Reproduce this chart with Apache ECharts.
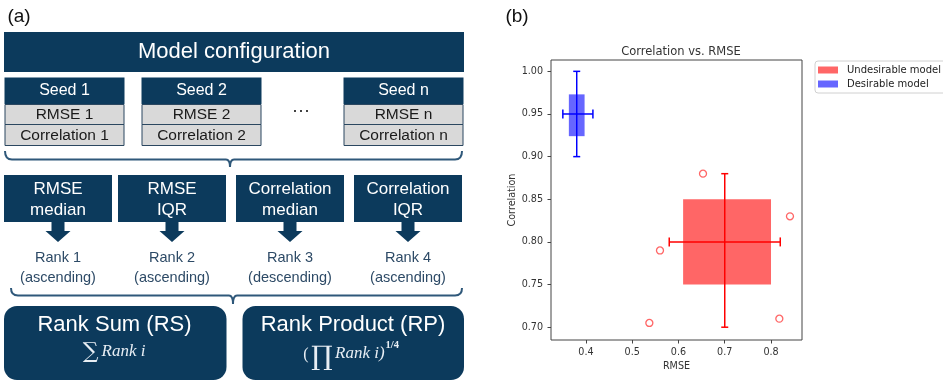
<!DOCTYPE html>
<html>
<head>
<meta charset="utf-8">
<script src="https://cdn.jsdelivr.net/npm/echarts@6/dist/echarts.min.js"></script>
<style>html,body{margin:0;padding:0;background:#fff}#c{width:943px;height:382px}</style>
</head>
<body>
<div id="c"></div>
<script>
// ---- Panel (b) data ----
// [lower whisker, Q1, median, Q3, upper whisker]
const undesirableRmse = [0.58, 0.61, 0.70, 0.80, 0.82];
const undesirableCorr = [0.70, 0.75, 0.80, 0.85, 0.88];
const desirableRmse = [0.35, 0.363, 0.38, 0.397, 0.415];
const desirableCorr = [0.90, 0.924, 0.95, 0.973, 1.00];
const undesirableOutliers = [[0.653, 0.88], [0.56, 0.79], [0.537, 0.705], [0.818, 0.71], [0.841, 0.83]];
const xTicks = [0.4, 0.5, 0.6, 0.7, 0.8];
const yTicks = [0.70, 0.75, 0.80, 0.85, 0.90, 0.95, 1.00];
const seriesNames = ['Undesirable model', 'Desirable model'];

// ---- Panel (a) texts ----
const seedHeaders = ['Seed 1', 'Seed 2', 'Seed n'];
const seedRmse = ['RMSE 1', 'RMSE 2', 'RMSE n'];
const seedCorr = ['Correlation 1', 'Correlation 2', 'Correlation n'];
const metricLabels = [['RMSE', 'median'], ['RMSE', 'IQR'], ['Correlation', 'median'], ['Correlation', 'IQR']];
const rankLabels = [['Rank 1', '(ascending)'], ['Rank 2', '(ascending)'], ['Rank 3', '(descending)'], ['Rank 4', '(ascending)']];

const NAVY = '#0c3a5c';
const SANS = 'Liberation Sans';
function txt(text, x, y, size, color, extra) {
  return {
    type: 'text', silent: true,
    style: Object.assign({
      text: text, x: x, y: y, fill: color,
      fontSize: size, fontFamily: SANS,
      align: 'center', verticalAlign: 'middle'
    }, extra || {})
  };
}
const BR = '#2f587a';
function brace(x0, x1, xc, y, yEnd, yTip) {
  const s = {stroke: BR, lineWidth: 2, fill: 'none'};
  return [
    {type: 'bezierCurve', shape: {x1: x0, y1: yEnd, x2: x0 + 7, y2: y, cpx1: x0, cpy1: y}, style: s},
    {type: 'line', shape: {x1: x0 + 7, y1: y, x2: xc - 4, y2: y}, style: s},
    {type: 'bezierCurve', shape: {x1: xc - 4, y1: y, x2: xc, y2: yTip, cpx1: xc, cpy1: y}, style: s},
    {type: 'bezierCurve', shape: {x1: xc + 4, y1: y, x2: xc, y2: yTip, cpx1: xc, cpy1: y}, style: s},
    {type: 'line', shape: {x1: xc + 4, y1: y, x2: x1 - 7, y2: y}, style: s},
    {type: 'bezierCurve', shape: {x1: x1 - 7, y1: y, x2: x1, y2: yEnd, cpx1: x1, cpy1: y}, style: s}
  ];
}
const g = [];
g.push(txt('(a)', 19, 17, 19, '#111'));
g.push(txt('(b)', 517, 17, 19, '#111'));
// model configuration
g.push({type: 'rect', shape: {x: 4, y: 32, width: 460, height: 40}, style: {fill: NAVY}});
g.push(txt('Model configuration', 234, 52, 22, '#fff'));
// seed boxes
const seedX = [4.5, 141.5, 343.5];
seedX.forEach((x, i) => {
  g.push({type: 'rect', shape: {x: x, y: 77.5, width: 120, height: 26.5}, style: {fill: NAVY}});
  g.push({type: 'rect', shape: {x: x + 0.5, y: 104.5, width: 119, height: 20}, style: {fill: '#d9d9d9', stroke: '#2b4760', lineWidth: 1}});
  g.push({type: 'rect', shape: {x: x + 0.5, y: 124.5, width: 119, height: 21}, style: {fill: '#d9d9d9', stroke: '#2b4760', lineWidth: 1}});
  g.push(txt(seedHeaders[i], x + 60, 91, 16, '#fff'));
  g.push(txt(seedRmse[i], x + 60, 114.5, 15.5, '#1a1a1a'));
  g.push(txt(seedCorr[i], x + 60, 135.5, 15.5, '#1a1a1a'));
});
g.push(txt('\u00b7\u00b7\u00b7', 301, 111, 18, '#222'));
// braces
brace(5, 462, 230, 159.5, 151, 167).forEach(e => g.push(e));
brace(11, 462, 233, 295.5, 288, 304).forEach(e => g.push(e));
// metric boxes, arrows, ranks
const mX = [4, 118, 236, 354];
mX.forEach((x, i) => {
  const cx = x + 54;
  g.push({type: 'rect', shape: {x: x, y: 175, width: 108, height: 47}, style: {fill: NAVY}});
  g.push(txt(metricLabels[i][0], cx, 189.5, 17, '#fff'));
  g.push(txt(metricLabels[i][1], cx, 210, 17, '#fff'));
  g.push({type: 'polygon', shape: {points: [[cx - 6.5, 221], [cx + 6.5, 221], [cx + 6.5, 231], [cx + 12.5, 231], [cx, 242], [cx - 12.5, 231], [cx - 6.5, 231]]}, style: {fill: NAVY}});
  g.push(txt(rankLabels[i][0], cx, 258, 14.5, '#2d4a66'));
  g.push(txt(rankLabels[i][1], cx, 277.5, 14.5, '#2d4a66'));
});
// rank sum / product
g.push({type: 'rect', shape: {x: 4, y: 306, width: 222.5, height: 74, r: 13}, style: {fill: NAVY}});
g.push({type: 'rect', shape: {x: 242.5, y: 306, width: 221.5, height: 74, r: 13}, style: {fill: NAVY}});
g.push(txt('Rank Sum (RS)', 114.5, 325, 22, '#fff'));
g.push(txt('Rank Product (RP)', 353, 325, 22, '#fff'));
const MATH = '#e8eef4';
g.push(txt('\u2211', 90.5, 352, 22, MATH, {fontFamily: 'DejaVu Serif'}));
g.push(txt('Rank i', 101.5, 352, 17, MATH, {fontFamily: 'Liberation Serif', fontStyle: 'italic', align: 'left'}));
g.push(txt('(', 306, 355, 16, MATH, {fontFamily: 'Liberation Serif'}));
g.push(txt('\u220f', 321.7, 357.5, 27, MATH, {fontFamily: 'DejaVu Serif'}));
g.push(txt('Rank i)', 335, 353.5, 17, MATH, {fontFamily: 'Liberation Serif', fontStyle: 'italic', align: 'left', letterSpacing: 0.6}));
g.push(txt('1/4', 385.5, 345, 10.5, MATH, {fontFamily: 'Liberation Serif', fontWeight: 'bold', align: 'left'}));

function boxRender(params, api) {
  const rx = [0, 1, 2, 3, 4].map(i => api.value(i));
  const cy = [5, 6, 7, 8, 9].map(i => api.value(i));
  const col = api.value(10) === 0 ? '#ff0000' : '#0000ff';
  const fill = api.value(10) === 0 ? '#ff6666' : '#6666ff';
  const p = (x, y) => api.coord([x, y]);
  const a = p(rx[1], cy[3]), b = p(rx[3], cy[1]);
  const ln = (p1, p2) => ({type: 'line', shape: {x1: p1[0], y1: p1[1], x2: p2[0], y2: p2[1]}, style: {stroke: col, lineWidth: 1.5}});
  const vTop = p(rx[2], cy[4]), vBot = p(rx[2], cy[0]);
  const hL = p(rx[0], cy[2]), hR = p(rx[4], cy[2]);
  const c = 3.5;
  return {type: 'group', children: [
    {type: 'rect', shape: {x: a[0], y: a[1], width: b[0] - a[0], height: b[1] - a[1]}, style: {fill: fill}},
    ln(vTop, vBot),
    ln([vTop[0] - c, vTop[1]], [vTop[0] + c, vTop[1]]),
    ln([vBot[0] - c, vBot[1]], [vBot[0] + c, vBot[1]]),
    ln(hL, hR),
    ln([hL[0], hL[1] - 4.5], [hL[0], hL[1] + 4.5]),
    ln([hR[0], hR[1] - 4.5], [hR[0], hR[1] + 4.5])
  ]};
}

const chart = echarts.init(document.getElementById('c'));
chart.setOption({
  animation: false,
  title: {text: 'Correlation vs. RMSE', left: 676, top: 41, textAlign: 'center',
    textStyle: {fontFamily: 'DejaVu Sans', fontSize: 11.5, fontWeight: 'normal', color: '#333'}},
  legend: {
    orient: 'vertical', left: 815, top: 61, padding: [4, 6, 4, 3],
    borderColor: '#d0d0d0', borderWidth: 1, borderRadius: 3,
    itemWidth: 20, itemHeight: 7, itemGap: 4, icon: 'rect',
    textStyle: {fontFamily: 'DejaVu Sans', fontSize: 10, color: '#222', padding: [0, 0, 0, 4]},
    data: seriesNames
  },
  grid: {left: 551, top: 60, width: 251, height: 280, show: true, borderColor: '#444', borderWidth: 1, backgroundColor: 'transparent'},
  xAxis: {
    type: 'value', min: 0.3244, max: 0.867, name: 'RMSE', nameLocation: 'middle', nameGap: 21,
    nameTextStyle: {fontFamily: 'DejaVu Sans', fontSize: 9.6, color: '#333'},
    axisLine: {show: false}, splitLine: {show: false},
    axisTick: {show: true, length: 3.5, lineStyle: {color: '#444'}, customValues: xTicks},
    axisLabel: {customValues: xTicks, margin: 7, formatter: v => v.toFixed(1), fontFamily: 'DejaVu Sans', fontSize: 9.6, color: '#333'}
  },
  yAxis: {
    type: 'value', min: 0.685, max: 1.0133, name: 'Correlation', nameLocation: 'middle', nameGap: 34, nameRotate: 90,
    nameTextStyle: {fontFamily: 'DejaVu Sans', fontSize: 9.6, color: '#333'},
    axisLine: {show: false}, splitLine: {show: false},
    axisTick: {show: true, length: 3.5, lineStyle: {color: '#444'}, customValues: yTicks},
    axisLabel: {customValues: yTicks, margin: 8, formatter: v => v.toFixed(2), fontFamily: 'DejaVu Sans', fontSize: 9.6, color: '#333'}
  },
  graphic: {elements: g},
  series: [
    {type: 'custom', name: seriesNames[0], itemStyle: {color: '#ff6666'}, renderItem: boxRender,
      encode: {x: [0, 1, 2, 3, 4], y: [5, 6, 7, 8, 9]},
      data: [undesirableRmse.concat(undesirableCorr, [0])]},
    {type: 'custom', name: seriesNames[1], itemStyle: {color: '#6666ff'}, renderItem: boxRender,
      encode: {x: [0, 1, 2, 3, 4], y: [5, 6, 7, 8, 9]},
      data: [desirableRmse.concat(desirableCorr, [1])]},
    {type: 'scatter', name: 'outliers', data: undesirableOutliers, symbol: 'circle', symbolSize: 7,
      itemStyle: {color: '#fff', borderColor: '#ff4040', borderWidth: 1.3}}
  ]
});
</script>
</body>
</html>
